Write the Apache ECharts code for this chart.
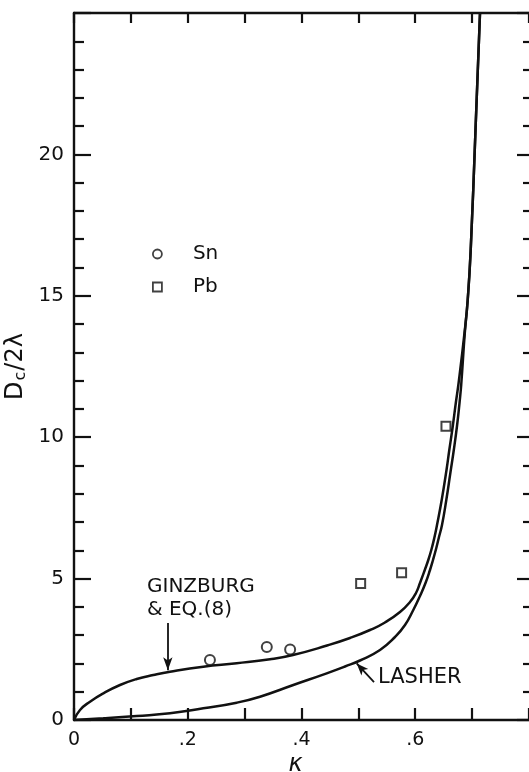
<!DOCTYPE html>
<html>
<head>
<meta charset="utf-8">
<title>Dc/2λ versus κ</title>
<script src="https://cdn.jsdelivr.net/npm/echarts@6/dist/echarts.min.js"></script>
<style>
  html, body { margin: 0; padding: 0; background: #ffffff; }
  #chart { width: 529px; height: 772px; }
</style>
</head>
<body>
<div id="chart"></div>
<script>
// Ginzburg & Eq. (8) curve
const kappaGinzburg = [0, 0.01055, 0.02813, 0.05152, 0.08088, 0.11024, 0.13943, 0.16879, 0.22734,
  0.28607, 0.34462, 0.38505, 0.44484, 0.48527, 0.52044, 0.54681, 0.57319, 0.59077, 0.60132,
  0.60835, 0.61679, 0.62294, 0.62822, 0.63349, 0.63824, 0.64651, 0.65495, 0.65987, 0.66602,
  0.67130, 0.67622, 0.68659, 0.69222, 0.69749, 0.70593, 0.71385];
const dGinzburg = [0, 0.354, 0.647, 0.944, 1.238, 1.450, 1.591, 1.708, 1.885,
  2.005, 2.146, 2.298, 2.634, 2.900, 3.182, 3.448, 3.819, 4.173, 4.491,
  4.844, 5.304, 5.658, 6.011, 6.436, 6.895, 7.779, 8.840, 9.547, 10.396,
  11.209, 11.917, 13.685, 14.852, 16.620, 20.863, 25.0];

// Lasher curve
const kappaLasher = [0, 0.05152, 0.11024, 0.16879, 0.22734, 0.28607, 0.32703, 0.38558, 0.44431,
  0.47648, 0.50286, 0.53802, 0.56439, 0.58197, 0.59656, 0.60835, 0.61802, 0.62593, 0.63121,
  0.63701, 0.64174, 0.64702, 0.65459, 0.66198, 0.66778, 0.67341, 0.67780, 0.68079, 0.68712,
  0.69222, 0.69749, 0.70593, 0.71385];
const dLasher = [0, 0.060, 0.141, 0.237, 0.414, 0.612, 0.824, 1.238, 1.651,
  1.892, 2.104, 2.475, 2.935, 3.359, 3.890, 4.385, 4.844, 5.304, 5.658,
  6.082, 6.471, 6.895, 7.779, 8.769, 9.547, 10.396, 11.209, 11.846, 13.685,
  14.852, 16.620, 20.863, 25.0];

// Measured points
const kappaSn = [0.239, 0.339, 0.380];
const dSn = [2.12, 2.58, 2.49];
const kappaPb = [0.504, 0.576, 0.654];
const dPb = [4.83, 5.21, 10.39];

// Bottom tick labels, indexed by tenths of κ
const xTickLabels = ['0', '', '.2', '', '.4', '', '.6', '', ''];
const yTickLabels = { 0: '0', 5: '5', 10: '10', 15: '15', 20: '20', 25: '' };

const INK = '#111';
const FONT = 'DejaVu Sans';

const zip = (xs, ys) => xs.map((x, i) => [x, ys[i]]);

const chart = echarts.init(document.getElementById('chart'), null, { renderer: 'canvas' });

const xCommon = {
  type: 'value', min: 0, max: 0.8, interval: 0.1,
  splitLine: { show: false },
  axisLine: { show: true, onZero: false, lineStyle: { color: INK, width: 2.4 } }
};
const yCommon = {
  type: 'value', min: 0, max: 25, interval: 5,
  splitLine: { show: false }, minorSplitLine: { show: false }
};

chart.setOption({
  animation: false,
  backgroundColor: '#ffffff',
  textStyle: { fontFamily: FONT, color: INK },
  grid: { left: 74, right: 0, top: 13, bottom: 52, containLabel: false, outerBoundsMode: 'none' },
  legend: {
    data: [{ name: 'Sn', icon: 'circle' }, { name: 'Pb', icon: 'rect' }],
    orient: 'vertical', left: 152, top: 244, padding: 0,
    itemWidth: 9, itemHeight: 9, itemGap: 13,
    selectedMode: false,
    itemStyle: { color: '#ffffff', borderColor: INK, borderWidth: 1.8 },
    textStyle: { fontFamily: FONT, fontSize: 20, color: INK, padding: [0, 0, 0, 26] }
  },
  xAxis: [
    Object.assign({}, xCommon, {
      position: 'bottom',
      name: 'κ', nameLocation: 'middle', nameGap: 33, nameMoveOverlap: false,
      nameTextStyle: { fontFamily: FONT, fontSize: 24, fontStyle: 'italic', color: INK, padding: [0, 12, 0, 0] },
      axisTick: { show: true, inside: true, length: 12, lineStyle: { color: INK, width: 2.2 } },
      axisLabel: {
        margin: 11, fontSize: 19, fontFamily: FONT, color: INK,
        showMaxLabel: true,
        formatter: v => xTickLabels[Math.round(v * 10)] || ''
      }
    }),
    Object.assign({}, xCommon, {
      position: 'top',
      axisTick: { show: true, inside: true, length: 10, lineStyle: { color: INK, width: 2.2 } },
      axisLabel: { show: false }
    })
  ],
  yAxis: [
    Object.assign({}, yCommon, {
      position: 'left',
      name: '{d|D}{s|c}{d|/2λ}', nameLocation: 'middle', nameGap: 45, nameRotate: 90,
      nameMoveOverlap: false,
      nameTextStyle: {
        color: INK,
        rich: {
          d: { fontFamily: FONT, fontSize: 24, color: INK },
          s: { fontFamily: FONT, fontSize: 16, color: INK, verticalAlign: 'bottom', padding: [10, 1, 0, 1] }
        }
      },
      axisLine: { show: true, onZero: false, lineStyle: { color: INK, width: 2.4 } },
      axisTick: { show: true, inside: true, length: 17, lineStyle: { color: INK, width: 2.2 } },
      minorTick: { show: true, splitNumber: 5, length: 10, lineStyle: { color: INK, width: 2.2 } },
      axisLabel: {
        margin: 10, fontSize: 20, fontFamily: FONT, color: INK,
        formatter: v => yTickLabels[Math.round(v)] ?? ''
      }
    }),
    Object.assign({}, yCommon, {
      position: 'right',
      axisLine: { show: false, onZero: false },
      axisTick: { show: true, inside: true, length: 12, lineStyle: { color: INK, width: 2.2 } },
      minorTick: { show: true, splitNumber: 5, length: 6, lineStyle: { color: INK, width: 2.2 } },
      axisLabel: { show: false }
    })
  ],
  series: [
    {
      name: 'Ginzburg & Eq. (8)', type: 'line',
      data: zip(kappaGinzburg, dGinzburg),
      showSymbol: false, smooth: 0.5,
      lineStyle: { color: INK, width: 2.5 },
      markLine: {
        silent: true, animation: false,
        symbol: ['none', 'arrow'], symbolSize: [7, 13],
        label: { show: false },
        lineStyle: { color: INK, width: 1.8, type: 'solid' },
        data: [[{ coord: [0.165, 3.43] }, { coord: [0.165, 1.76] }]]
      }
    },
    {
      name: 'Lasher', type: 'line',
      data: zip(kappaLasher, dLasher),
      showSymbol: false, smooth: 0.5,
      lineStyle: { color: INK, width: 2.5 },
      markLine: {
        silent: true, animation: false,
        symbol: ['none', 'arrow'], symbolSize: [7, 12],
        label: { show: false },
        lineStyle: { color: INK, width: 1.8, type: 'solid' },
        data: [[{ coord: [0.5275, 1.34] }, { coord: [0.497, 2.0] }]]
      }
    },
    {
      name: 'Sn', type: 'scatter',
      data: zip(kappaSn, dSn),
      symbol: 'circle', symbolSize: 10,
      itemStyle: { color: '#ffffff', borderColor: INK, borderWidth: 2 },
      z: 5
    },
    {
      name: 'Pb', type: 'scatter',
      data: zip(kappaPb, dPb),
      symbol: 'rect', symbolSize: 9,
      itemStyle: { color: '#ffffff', borderColor: INK, borderWidth: 2 },
      z: 5
    }
  ],
  graphic: [
    { type: 'text', left: 147, top: 577, style: { text: 'GINZBURG', font: '20px "DejaVu Sans"', fill: INK } },
    { type: 'text', left: 147, top: 600, style: { text: '& EQ.(8)', font: '20px "DejaVu Sans"', fill: INK } },
    { type: 'text', left: 378, top: 667, style: { text: 'LASHER', font: '21px "DejaVu Sans"', fill: INK } }
  ]
});
</script>
</body>
</html>
